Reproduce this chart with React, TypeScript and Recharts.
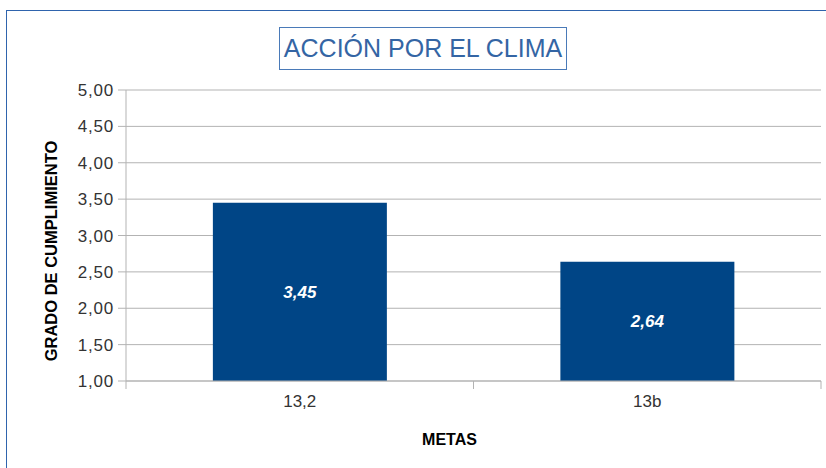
import { Bar, BarChart, CartesianGrid, LabelList, XAxis, YAxis } from "recharts";

const CATEGORIES = ["13,2", "13b"];
const VALUES = [3.45, 2.64];
const Y_TICKS = [1, 1.5, 2, 2.5, 3, 3.5, 4, 4.5, 5];

const data = CATEGORIES.map((meta, i) => ({ meta, grado: VALUES[i] }));

const W = 826;
const H = 468;
const PLOT_LEFT = 126;
const PLOT_RIGHT = 5;
const BAND = (W - PLOT_LEFT - PLOT_RIGHT) / CATEGORIES.length;

const fmt = (v: number) => v.toFixed(2).replace(".", ",");
const FONT = "'Liberation Sans', Arial, sans-serif";

// category tick: label in the middle, tick marks on the band edges
const CatTick = (props: any) => {
    const { x, y, payload } = props;
    return (
        <g>
            <line x1={x - BAND / 2} y1={y - 8} x2={x - BAND / 2} y2={y} stroke="#b3b3b3" />
            <line x1={x + BAND / 2} y1={y - 8} x2={x + BAND / 2} y2={y} stroke="#b3b3b3" />
            <text x={x} y={y + 18} textAnchor="middle" fill="#333" fontSize={17} fontFamily={FONT}>
                {payload.value}
            </text>
        </g>
    );
};

const YTitle = () => (
    <text
        x={51}
        y={251}
        transform="rotate(-90 51 251)"
        textAnchor="middle"
        dominantBaseline="central"
        fill="#000"
        fontSize={16.5}
        fontWeight="bold"
        fontFamily={FONT}
    >
        GRADO DE CUMPLIMIENTO
    </text>
);

const App = () => {
    return (
        <div style={{ position: "absolute", left: 0, top: 0, width: W, height: H, background: "#fff", overflow: "hidden" }}>
            <div style={{ position: "absolute", left: 6, top: 10, width: W, height: H, borderLeft: "1px solid #2f64ad", borderTop: "1px solid #2f64ad" }} />
            <div
                style={{
                    position: "absolute", left: 279, top: 27, width: 288, height: 43,
                    border: "1px solid #4a7ab8", color: "#3465a4", fontFamily: FONT, fontSize: 25,
                    display: "flex", alignItems: "center", justifyContent: "center", boxSizing: "border-box",
                }}
            >
                ACCIÓN POR EL CLIMA
            </div>
            <BarChart
                width={W}
                height={H}
                data={data}
                margin={{ top: 90, right: PLOT_RIGHT, left: 0, bottom: 0 }}
                barCategoryGap="25%"
                style={{ position: "absolute", left: 0, top: 0 }}
            >
                <CartesianGrid vertical={false} stroke="#b3b3b3" />
                <XAxis
                    dataKey="meta"
                    height={87}
                    axisLine={{ stroke: "#b3b3b3" }}
                    tickLine={false}
                    tick={<CatTick />}
                    interval={0}
                    label={{ value: "METAS", position: "insideBottom", offset: 23, dx: -24, fill: "#000", fontSize: 16, fontWeight: "bold", fontFamily: FONT }}
                />
                <YAxis
                    domain={[1, 5]}
                    ticks={Y_TICKS}
                    width={PLOT_LEFT}
                    tickFormatter={fmt}
                    allowDataOverflow
                    axisLine={{ stroke: "#b3b3b3" }}
                    tickLine={{ stroke: "#b3b3b3" }}
                    tickSize={8}
                    tickMargin={4}
                    tick={{ fill: "#333", fontSize: 17, fontFamily: FONT, letterSpacing: 0.8 }}
                    label={<YTitle />}
                />
                <YAxis yAxisId="r" orientation="right" width={0} tick={false} axisLine={{ stroke: "#b3b3b3" }} tickLine={false} />
                <Bar dataKey="grado" fill="#004586" isAnimationActive={false}>
                    <LabelList
                        dataKey="grado"
                        position="center"
                        formatter={(v: any) => fmt(Number(v))}
                        fill="#fff"
                        fontSize={17}
                        fontWeight="bold"
                        fontStyle="italic"
                        fontFamily={FONT}
                    />
                </Bar>
            </BarChart>
        </div>
    );
};

export default App;
